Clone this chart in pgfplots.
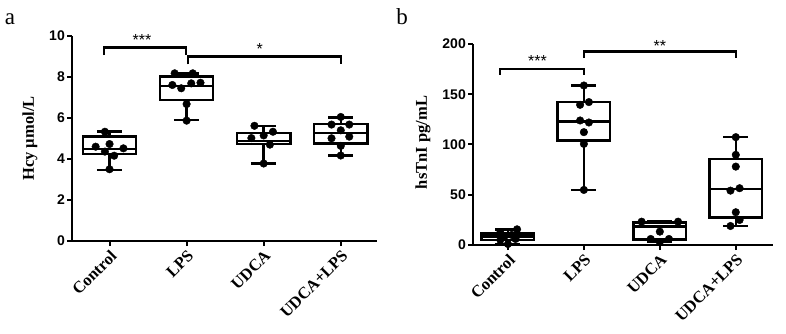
\documentclass[border=0pt]{standalone}
\usepackage{fontspec}
\setmainfont{Liberation Serif}
\newfontfamily\sansb{Liberation Sans}
\usepackage{pgfplots}
\pgfplotsset{compat=1.18}
\usepgfplotslibrary{statistics}
\tikzset{ast/.style={anchor=base, font=\fontsize{16}{18}\sansb}}
\begin{document}
\begin{tikzpicture}
\path[use as bounding box] (0pt,0pt) rectangle (786pt,334pt);
\pgfplotsset{
 myax/.style={
  scale only axis, anchor=south west,
  axis x line=bottom, axis y line=left,
  axis line style={-, line width=2pt},
  tick align=outside, major tick length=5pt,
  every tick/.style={line width=2pt, black},
  xtick={0,1,2,3}, xticklabels={Control,LPS,UDCA,UDCA+LPS},
  xticklabel style={rotate=45, anchor=north east, font=\fontsize{16.5}{18}\selectfont\bfseries, inner sep=2pt},
  yticklabel style={font=\fontsize{14}{16}\sansb\bfseries, inner sep=2pt},
  /pgf/number format/assume math mode=true,
  clip=false,
  ylabel style={font=\fontsize{16.5}{18}\selectfont\bfseries},
  boxplot/draw direction=y,
  boxplot/box extend=0.69, boxplot/whisker extend=0.33,
 },
 bx/.style={black, line width=2.5pt},
 pts/.style={only marks, mark=*, mark size=3.8pt, black},
 brk/.style={black, line width=2.5pt, mark=none},
}
% ---------- panel a ----------
\begin{axis}[myax, at={(72pt,93pt)}, width=305pt, height=205pt,
  xmin=-0.487, xmax=3.47, ymin=0, ymax=10, ytick={0,2,...,10},
  ylabel={Hcy µmol/L},
  ylabel style={at={(axis description cs:-0.138,0.5)}, anchor=center}]
\addplot[bx, boxplot prepared={draw position=0, lower whisker=3.46, lower quartile=4.24, median=4.49, upper quartile=5.09, upper whisker=5.33}] coordinates {};
\addplot[bx, boxplot prepared={draw position=1, lower whisker=5.9, lower quartile=6.88, median=7.56, upper quartile=8.02, upper whisker=8.18}] coordinates {};
\addplot[bx, boxplot prepared={draw position=2, lower whisker=3.79, lower quartile=4.72, median=4.89, upper quartile=5.28, upper whisker=5.61}] coordinates {};
\addplot[bx, boxplot prepared={draw position=3, lower whisker=4.18, lower quartile=4.76, median=5.28, upper quartile=5.71, upper whisker=6.03}] coordinates {};
\addplot[pts] coordinates {(-0.06,5.33) (-0.18,4.6) (0,4.73) (0.18,4.52) (-0.06,4.36) (0.06,4.16) (0,3.5)};
\addplot[pts] coordinates {(0.845,8.18) (1.08,8.18) (0.815,7.61) (0.93,7.45) (1.06,7.69) (1.18,7.72) (1,6.68) (1,5.87)};
\addplot[pts] coordinates {(1.88,5.62) (2.12,5.33) (2,5.15) (1.84,5.02) (2.08,4.7) (2,3.78)};
\addplot[pts] coordinates {(3,6.05) (2.88,5.68) (3.11,5.68) (3,5.4) (2.88,5.01) (3.11,5.09) (3,4.64) (3,4.17)};
\addplot[brk] coordinates {(-0.07,9.07) (-0.07,9.45) (0.99,9.45) (0.99,9.07)};
\addplot[brk] coordinates {(1.02,8.62) (1.02,8.99) (3.0,8.99) (3.0,8.62)};
\node[ast] at (axis cs:0.42,9.55) {***};
\node[ast] at (axis cs:1.95,9.08) {*};
\end{axis}
% ---------- panel b ----------
\begin{axis}[myax, at={(473pt,89pt)}, width=300pt, height=201pt,
  xmin=-0.46, xmax=3.49, ymin=0, ymax=200, ytick={0,50,...,200},
  ylabel={hsTnI pg/mL},
  ylabel style={at={(axis description cs:-0.167,0.51)}, anchor=center}]
\addplot[bx, boxplot prepared={draw position=0, lower whisker=0.5, lower quartile=5, median=8.5, upper quartile=11.5, upper whisker=15.5}] coordinates {};
\addplot[bx, boxplot prepared={draw position=1, lower whisker=54.8, lower quartile=104, median=122.9, upper quartile=142.2, upper whisker=158.7}] coordinates {};
\addplot[bx, boxplot prepared={draw position=2, lower whisker=3, lower quartile=5.7, median=18.2, upper quartile=22.2, upper whisker=23.2}] coordinates {};
\addplot[bx, boxplot prepared={draw position=3, lower whisker=18.9, lower quartile=27.2, median=55.5, upper quartile=85.7, upper whisker=107.3}] coordinates {};
\addplot[pts] coordinates {(0.12,15.6) (-0.1,12.5) (0.05,10) (-0.05,8) (0.1,6) (-0.1,5) (0,1)};
\addplot[pts] coordinates {(1,158.7) (0.95,139.5) (1.066,142.2) (0.95,123.9) (1.066,121.9) (1,112.3) (1,100.6) (1,54.8)};
\addplot[pts] coordinates {(1.76,23.2) (2.24,23.2) (2,13.3) (1.88,6) (2.12,6) (2,3)};
\addplot[pts] coordinates {(3,107.3) (3,89.7) (3,78) (2.93,54.1) (3.05,56.5) (3,32.6) (3.05,24.9) (2.93,18.9)};
\addplot[brk] coordinates {(-0.105,169.4) (-0.105,175) (1.0,175) (1.0,169.4)};
\addplot[brk] coordinates {(1.0,186) (1.0,192.6) (3.0,192.6) (3.0,186)};
\node[ast] at (axis cs:0.39,177.5) {***};
\node[ast] at (axis cs:2.0,193) {**};
\end{axis}
\node[anchor=base, font=\fontsize{23}{26}\selectfont] at (10pt,309pt) {a};
\node[anchor=base, font=\fontsize{23}{26}\selectfont] at (402pt,309pt) {b};
\end{tikzpicture}
\end{document}
